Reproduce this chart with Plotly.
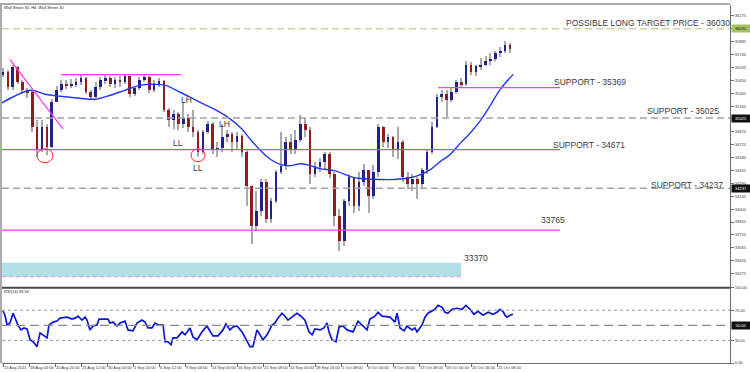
import plotly.graph_objects as go

# ---------------- data ----------------
title_text = "Wall Street 30, H4: Wall Street 30"
rsi_label = "RSI(14) 63.94"

date_ticks = [0, 16, 32, 48, 64, 80, 96, 112, 128, 144, 160, 176, 192, 208, 224, 240, 256, 272, 288, 304]
date_labels = ["13 Aug 2021", "18 Aug 04:00", "20 Aug 20:00", "25 Aug 12:00", "30 Aug 04:00",
               "1 Sep 20:00", "6 Sep 12:00", "9 Sep 04:00", "14 Sep 00:00", "16 Sep 16:00",
               "21 Sep 08:00", "24 Sep 00:00", "28 Sep 16:00", "1 Oct 08:00", "6 Oct 00:00",
               "8 Oct 16:00", "13 Oct 08:00", "18 Oct 00:00", "20 Oct 16:00", "25 Oct 08:00"]

price_ticks = [36175, 36030, 35885, 35740, 35595, 35450, 35305, 35160, 35015, 34870, 34725,
               34580, 34435, 34290, 34145, 34000, 33855, 33710, 33565, 33420, 33275]
rsi_ticks = [100, 70, 30, 0]
rsi_ticktext = ["100.00", "70.00", "30.00", "0.00"]

first_open = 35517
close = [35539, 35372, 35595, 35427, 35338, 35316, 34925, 34680, 34925, 34702,
         35204, 35338, 35405, 35394, 35405, 35427, 35472, 35316, 35260, 35372,
         35450, 35472, 35405, 35450, 35427, 35494, 35293, 35360, 35450, 35483,
         35338, 35405, 35438, 35115, 35003, 35070, 34959, 35026, 34925, 34869,
         34646, 34869, 34959, 34668, 34691, 34814, 34847, 34758, 34825, 34646,
         34256, 33809, 33977, 34311, 33887, 34088, 34423, 34490, 34758, 34668,
         34780, 34959, 34892, 34401, 34479, 34535, 34624, 34401, 33921, 33642,
         34088, 34367, 34032, 34311, 34445, 34144, 34423, 34925, 34758, 34814,
         34668, 34758, 34367, 34289, 34345, 34278, 34445, 34646, 34925, 35260,
         35293, 35226, 35316, 35427, 35405, 35628, 35539, 35606, 35628, 35673,
         35695, 35762, 35784, 35851, 35807]
high = [35584, 35561, 35628, 35617, 35450, 35360, 35327, 35003, 35003, 34959,
        35238, 35383, 35450, 35450, 35461, 35472, 35505, 35483, 35338, 35427,
        35483, 35505, 35494, 35483, 35494, 35517, 35494, 35383, 35483, 35517,
        35494, 35450, 35472, 35450, 35137, 35115, 35093, 35204, 35070, 35115,
        34892, 34892, 34992, 34981, 34758, 34959, 34892, 34869, 34869, 34847,
        34668, 34256, 34200, 34345, 34345, 34122, 34445, 34869, 34814, 34847,
        34892, 35059, 35026, 34925, 34535, 34579, 34646, 34646, 34423, 33999,
        34110, 34401, 34367, 34423, 34512, 34445, 34501, 34959, 34936, 34847,
        34825, 34925, 34780, 34423, 34401, 34367, 34468, 34668, 34981, 35293,
        35338, 35338, 35372, 35450, 35472, 35673, 35651, 35628, 35706, 35729,
        35762, 35784, 35829, 35896, 35874]
low = [35483, 35338, 35338, 35405, 35293, 35249, 34869, 34590, 34646, 34613,
       34691, 35204, 35316, 35349, 35360, 35372, 35394, 35293, 35226, 35249,
       35338, 35405, 35372, 35360, 35372, 35405, 35260, 35271, 35338, 35427,
       35305, 35316, 35372, 35093, 34925, 34903, 34892, 34914, 34869, 34814,
       34590, 34624, 34847, 34624, 34590, 34646, 34758, 34646, 34668, 34590,
       34032, 33609, 33753, 33921, 33843, 33843, 34066, 34401, 34445, 34624,
       34624, 34758, 34814, 34278, 34367, 34423, 34445, 34356, 33809, 33530,
       33586, 34032, 33954, 33977, 34256, 33954, 34110, 34367, 34702, 34691,
       34590, 34568, 34311, 34222, 34200, 34110, 34244, 34401, 34624, 34914,
       35204, 35037, 35204, 35293, 35360, 35383, 35505, 35494, 35561, 35606,
       35628, 35673, 35717, 35762, 35762]
bars_per_candle = 3

ma_x = [-2, 7, 17, 26, 35, 47, 57, 66, 75, 84, 94, 100, 109, 121, 130, 140, 147, 152, 158, 164,
        171, 177, 183, 189, 195, 204, 214, 220, 232, 241, 251, 257, 263, 269, 275, 281, 287, 294,
        300, 306, 314]
ma_y = [35182, 35271, 35338, 35293, 35271, 35249, 35238, 35282, 35338, 35394, 35405, 35394, 35316,
        35204, 35126, 35014, 34903, 34791, 34668, 34568, 34501, 34490, 34512, 34490, 34456, 34434,
        34367, 34345, 34334, 34334, 34356, 34390, 34445, 34535, 34613, 34735, 34847, 35003, 35171,
        35349, 35517]

rsi_x = [0, 1.2, 2.5, 4.3, 6.2, 7.4, 9.2, 11.1, 12.9, 14.8, 16.6, 18.5, 20.9, 22.8, 24.6, 27.1, 28.3,
         30.8, 33.2, 35.1, 39.4, 42.5, 44.3, 46.2, 48.6, 50.5, 51.7, 53.5, 55.4, 57.8, 59.1, 61.5,
         64.6, 65.8, 67.7, 70.2, 72.0, 75.1, 76.9, 80.0, 82.5, 85.5, 87.4, 89.2, 91.7, 93.5, 96.0,
         98.5, 99.7, 101.5, 103.4, 104.6, 107.1, 110.2, 112.0, 115.1, 116.9, 119.4, 122.5, 125.5,
         129.2, 132.3, 135.4, 137.2, 139.7, 141.5, 144.0, 147.1, 149.5, 152.0, 153.8, 156.3, 160.0,
         162.5, 165.5, 167.4, 169.2, 171.7, 173.5, 175.4, 178.5, 180.9, 183.4, 185.8, 188.3, 190.2,
         192.0, 195.1, 197.5, 199.4, 200.6, 202.5, 204.9, 206.8, 209.2, 211.7, 215.4, 218.5, 220.9,
         224.0, 225.8, 228.9, 230.8, 233.2, 238.2, 241.2, 242.5, 244.3, 246.8, 248.6, 251.7, 253.5,
         254.8, 257.8, 259.7, 261.5, 265.8, 267.7, 270.2, 272.0, 273.8, 276.3, 279.4, 282.5, 284.9,
         287.4, 289.8, 292.3, 295.4, 298.5, 301.5, 304.0, 305.8, 307.7, 308.9, 310.2, 312.0, 313.8]
rsi_v = [69.0, 63.4, 50.4, 53.0, 66.0, 59.5, 50.4, 43.9, 46.5, 45.2, 30.8, 28.2, 21.7, 40.0, 37.4,
         33.4, 50.4, 54.3, 55.6, 59.5, 60.8, 58.2, 59.5, 62.1, 56.9, 60.8, 56.9, 43.9, 49.1, 50.4,
         58.2, 58.2, 58.2, 53.0, 54.3, 49.1, 53.0, 55.6, 43.9, 42.6, 53.0, 56.9, 54.3, 46.5, 46.5,
         53.0, 50.4, 50.4, 28.2, 28.2, 24.3, 33.4, 33.4, 41.3, 37.4, 46.5, 34.7, 30.8, 41.3, 49.1,
         36.0, 36.0, 43.9, 51.7, 43.9, 47.8, 49.1, 41.3, 30.8, 21.7, 21.7, 43.9, 30.8, 37.4, 50.4,
         53.0, 59.5, 66.0, 62.1, 56.9, 62.1, 66.0, 62.1, 56.9, 41.3, 37.4, 45.2, 43.9, 46.5, 53.0,
         41.3, 30.8, 28.2, 47.8, 49.1, 43.9, 41.3, 55.6, 50.4, 43.9, 58.2, 62.1, 67.3, 62.1, 60.8,
         54.3, 66.0, 46.5, 42.6, 49.1, 43.9, 46.5, 41.3, 50.4, 60.8, 66.0, 71.3, 76.5, 73.9, 67.3,
         66.0, 71.3, 72.6, 71.3, 76.5, 71.3, 64.7, 68.6, 63.4, 67.3, 64.7, 67.3, 71.3, 68.6, 63.4,
         60.8, 63.4, 64.7]
rsi_levels_dotted = [70, 30]
rsi_level_mid = 50

target_level = 36030
range_top = 35515
support_pink = [35369, 34671, 33765]
support_dashed = [35025, 34237]
zone = [33240, 33396]
zone_label = 33370
trend_x = [4.3, 36.9]
trend_y = [35684, 34903]

# ---------------- geometry helpers (pixel -> axis) ----------------
W, H = 750, 372
ML, MR, MT, MB = 2, 20, 2, 9
PW, PH = W - ML - MR, H - MT - MB


def bx(px):
    return (px - 3) / 1.625


def py(y):
    return 36030 - (y - 26) * 11.16


def pxp(px):
    return (px - ML) / PW


def pyp(y):
    return (H - MB - y) / PH


split = pyp(287)
FONT = "Liberation Sans, Arial, sans-serif"

# ---------------- candles ----------------
opens = [first_open] + close[:-1]
cx = [i * bars_per_candle for i in range(len(close))]
body_base = [min(o, c) for o, c in zip(opens, close)]
body_len = [abs(c - o) for o, c in zip(opens, close)]
body_col = ["#21218c" if c >= o else "#8e1d1d" for o, c in zip(opens, close)]

fig = go.Figure()
fig.add_trace(go.Bar(x=cx, base=low, y=[h - l for h, l in zip(high, low)], width=0.65,
                     marker=dict(color="#aaaaaa", line=dict(width=0)),
                     xaxis="x", yaxis="y", hoverinfo="skip"))
fig.add_trace(go.Bar(x=cx, base=body_base, y=body_len, width=1.6,
                     marker=dict(color=body_col, line=dict(width=0)),
                     xaxis="x", yaxis="y", hoverinfo="skip"))
fig.add_trace(go.Scatter(x=ma_x, y=ma_y, mode="lines", line=dict(color="#2437f2", width=1.4, shape="spline"),
                         xaxis="x", yaxis="y", hoverinfo="skip"))
fig.add_trace(go.Scatter(x=trend_x, y=trend_y, mode="lines", line=dict(color="#ff3cf0", width=1.3),
                         xaxis="x", yaxis="y", hoverinfo="skip"))
fig.add_trace(go.Scatter(x=rsi_x, y=rsi_v, mode="lines", line=dict(color="#0c16d6", width=1.7),
                         xaxis="x2", yaxis="y2", hoverinfo="skip"))

shapes = []
# teal zone
shapes.append(dict(type="rect", xref="x", yref="y", x0=bx(2), x1=bx(461), y0=zone[0], y1=zone[1],
                   fillcolor="#b0e0e6", line=dict(width=0), layer="below"))
shapes.append(dict(type="line", xref="x", yref="y", x0=bx(2), x1=bx(462), y0=zone[0], y1=zone[0],
                   line=dict(color="#c39cf2", width=1, dash="4px,3px")))
# target
shapes.append(dict(type="line", xref="paper", yref="y", x0=0, x1=1, y0=target_level, y1=target_level,
                   line=dict(color="#c9d3a0", width=1.5, dash="7px,4px")))
# dashed supports
for lv in support_dashed:
    shapes.append(dict(type="line", xref="paper", yref="y", x0=0, x1=1, y0=lv, y1=lv,
                       line=dict(color="#a3a3a3", width=1.5, dash="7px,4px")))
# pink range top
shapes.append(dict(type="line", xref="x", yref="y", x0=bx(61), x1=bx(181), y0=range_top, y1=range_top,
                   line=dict(color="#ff3cf0", width=1.3)))
# pink supports
pink_x0 = [bx(438), bx(2), bx(2)]
for lv, x0 in zip(support_pink, pink_x0):
    shapes.append(dict(type="line", xref="x", yref="y", x0=x0, x1=bx(560), y0=lv, y1=lv,
                       line=dict(color="#ff3cf0", width=1.3)))
# circles
for (a, b, c, d) in [(37, 53, 147, 161), (191, 205, 147, 160)]:
    shapes.append(dict(type="circle", xref="x", yref="y", x0=bx(a), x1=bx(b), y0=py(d), y1=py(c),
                       line=dict(color="#ff2a2a", width=1)))
# RSI levels
for lv in rsi_levels_dotted:
    shapes.append(dict(type="line", xref="paper", yref="y2", x0=0, x1=1, y0=lv, y1=lv,
                       line=dict(color="#9a9a9a", width=1, dash="dot")))
shapes.append(dict(type="line", xref="paper", yref="y2", x0=0, x1=1, y0=rsi_level_mid, y1=rsi_level_mid,
                   line=dict(color="#8a8a8a", width=1.3, dash="9px,5px")))
# frame
shapes.append(dict(type="line", xref="paper", yref="paper", x0=pxp(0), x1=1, y0=split, y1=split,
                   line=dict(color="#4a4a4a", width=2)))
shapes.append(dict(type="line", xref="paper", yref="paper", x0=pxp(1), x1=pxp(1), y0=0, y1=pyp(0),
                   line=dict(color="#ababab", width=2)))
shapes.append(dict(type="line", xref="paper", yref="paper", x0=pxp(0), x1=1, y0=pyp(1), y1=pyp(1),
                   line=dict(color="#ababab", width=2)))

ann = []


def txt(s, px, y, size=8.5):
    ann.append(dict(text=s, x=bx(px), y=py(y), xref="x", yref="y", xanchor="left", yanchor="middle",
                    showarrow=False, borderpad=0, font=dict(family=FONT, size=size, color="#3a3a3a")))


txt(f"POSSIBLE LONG TARGET PRICE - {target_level}", 565, 20)
txt(f"SUPPORT - {support_pink[0]}", 553, 80)
txt(f"SUPPORT - {support_dashed[0]}", 646, 109)
txt(f"SUPPORT - {support_pink[1]}", 552, 143)
txt(f"SUPPORT - {support_dashed[1]}", 650, 183)
txt(f"{support_pink[2]}", 540, 219)
txt(f"{zone_label}", 463, 257)
txt("LH", 180, 98)
txt("LH", 218, 122)
txt("LL", 172, 141)
txt("LL", 192, 166)


def box(s, yv, yref, bg, fg):
    ann.append(dict(text=s, x=1, xref="paper", xanchor="left", xshift=1, y=yv, yref=yref, yanchor="middle",
                    showarrow=False, bgcolor=bg, width=18, height=7, borderpad=0,
                    font=dict(family=FONT, size=4, color=fg)))


box(str(target_level), target_level, "y", "#a3c25e", "#1a1a1a")
box(str(support_dashed[0]), support_dashed[0], "y", "#111111", "#ffffff")
box(str(support_dashed[1]), support_dashed[1], "y", "#111111", "#ffffff")
box(f"{rsi_level_mid:.2f}", rsi_level_mid, "y2", "#111111", "#ffffff")

ann.append(dict(text=title_text, x=pxp(3), y=pyp(5), xref="paper", yref="paper", xanchor="left",
                yanchor="middle", showarrow=False, borderpad=0, font=dict(family=FONT, size=4, color="#222")))
ann.append(dict(text=rsi_label, x=pxp(3), y=pyp(291), xref="paper", yref="paper", xanchor="left",
                yanchor="middle", showarrow=False, borderpad=0, font=dict(family=FONT, size=4, color="#222")))

xr = [bx(ML), bx(W - MR)]
tickfont = dict(family=FONT, size=4, color="#333")
fig.update_layout(
    width=W, height=H, margin=dict(l=ML, r=MR, t=MT, b=MB),
    paper_bgcolor="white", plot_bgcolor="white", showlegend=False,
    barmode="overlay", bargap=0,
    shapes=shapes, annotations=ann,
    xaxis=dict(domain=[0, 1], range=xr, anchor="y", showgrid=False, zeroline=False,
               showticklabels=False, showline=False, ticks=""),
    yaxis=dict(domain=[split, 1], range=[py(287), py(2)], side="right", anchor="x",
               showgrid=False, zeroline=False, showline=True, linecolor="#6e6e6e", linewidth=1,
               tickmode="array", tickvals=price_ticks, ticktext=[str(v) for v in price_ticks],
               ticks="outside", ticklen=3, tickcolor="#6e6e6e", tickfont=tickfont),
    xaxis2=dict(domain=[0, 1], range=xr, anchor="y2", showgrid=False, zeroline=False,
                showline=True, linecolor="#6e6e6e", linewidth=1,
                tickmode="array", tickvals=date_ticks, ticktext=date_labels, tickangle=0,
                ticks="outside", ticklen=3, tickcolor="#6e6e6e", tickfont=tickfont,
                ticklabelposition="outside right"),
    yaxis2=dict(domain=[0, split], range=[0, 100], side="right", anchor="x2",
                showgrid=False, zeroline=False, showline=True, linecolor="#6e6e6e", linewidth=1,
                tickmode="array", tickvals=rsi_ticks, ticktext=rsi_ticktext,
                ticks="outside", ticklen=3, tickcolor="#6e6e6e", tickfont=tickfont),
)

fig.write_html("out.html")
